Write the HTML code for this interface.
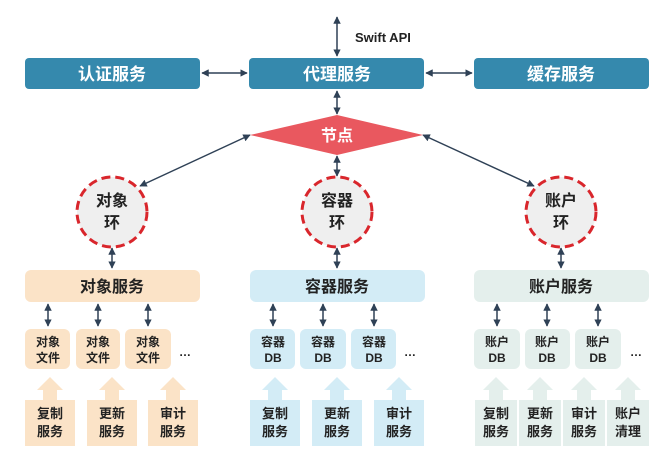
<!DOCTYPE html>
<html><head><meta charset="utf-8"><style>
body{margin:0;background:#fff}
svg text{font-family:"Liberation Sans","Noto Sans CJK SC",sans-serif;font-weight:bold}
</style></head><body>
<svg width="655" height="446" viewBox="0 0 655 446" xmlns="http://www.w3.org/2000/svg">
<defs>
<marker id="a" viewBox="0 0 10 10" refX="9" refY="5" markerWidth="5" markerHeight="5" orient="auto-start-reverse"><path d="M0,0L10,5L0,10z" fill="#2f4156"/></marker>
<path id="ba" d="M-13,390L0,377L13,390h-6v10h-14v-10z"/>
</defs>
<g stroke="#2f4156" stroke-width="1.5" fill="none" marker-start="url(#a)" marker-end="url(#a)">
<line x1="337" y1="17" x2="337" y2="56"/>
<line x1="337" y1="91" x2="337" y2="114"/>
<line x1="337" y1="156" x2="337" y2="176"/>
<line x1="202" y1="73" x2="247" y2="73"/>
<line x1="426" y1="73" x2="472" y2="73"/>
<line x1="250" y1="135" x2="140" y2="186"/>
<line x1="423" y1="135" x2="534" y2="186"/>
<line x1="112" y1="248" x2="112" y2="268"/>
<line x1="337" y1="248" x2="337" y2="268"/>
<line x1="561" y1="248" x2="561" y2="268"/>
<line x1="48" y1="304" x2="48" y2="326"/><line x1="98" y1="304" x2="98" y2="326"/><line x1="148" y1="304" x2="148" y2="326"/>
<line x1="273" y1="304" x2="273" y2="326"/><line x1="323" y1="304" x2="323" y2="326"/><line x1="374" y1="304" x2="374" y2="326"/>
<line x1="497" y1="304" x2="497" y2="326"/><line x1="547" y1="304" x2="547" y2="326"/><line x1="598" y1="304" x2="598" y2="326"/>
</g>
<text x="355" y="42" font-size="13" fill="#222">Swift API</text>
<g fill="#3589ad">
<rect x="25" y="58" width="175" height="31" rx="4"/>
<rect x="249" y="58" width="175" height="31" rx="4"/>
<rect x="474" y="58" width="175" height="31" rx="4"/>
</g>
<g fill="#fff" font-size="17" text-anchor="middle">
<text x="112" y="80">认证服务</text><text x="337" y="80">代理服务</text><text x="561" y="80">缓存服务</text>
</g>
<polygon points="250,135 337,115 423,135 337,155" fill="#e9585f"/>
<text x="337" y="141" fill="#fff" font-size="16" text-anchor="middle">节点</text>
<g fill="#efefef" stroke="#d9262c" stroke-width="3" stroke-dasharray="9,5">
<circle cx="112" cy="212" r="35"/><circle cx="337" cy="212" r="35"/><circle cx="561" cy="212" r="35"/>
</g>
<g font-size="16" fill="#222" text-anchor="middle">
<text x="112" y="206">对象</text><text x="112" y="228">环</text>
<text x="337" y="206">容器</text><text x="337" y="228">环</text>
<text x="561" y="206">账户</text><text x="561" y="228">环</text>
</g>
<rect x="25" y="270" width="175" height="32" rx="6" fill="#fbe3c7"/>
<rect x="250" y="270" width="175" height="32" rx="6" fill="#d3ecf6"/>
<rect x="474" y="270" width="175" height="32" rx="6" fill="#e4efec"/>
<g font-size="16" fill="#222" text-anchor="middle">
<text x="112" y="292">对象服务</text><text x="337" y="292">容器服务</text><text x="561" y="292">账户服务</text>
</g>
<g fill="#fbe3c7"><rect x="25" y="329" width="45" height="40" rx="6"/><rect x="76" y="329" width="44" height="40" rx="6"/><rect x="125" y="329" width="46" height="40" rx="6"/></g>
<g fill="#d3ecf6"><rect x="250" y="329" width="45" height="40" rx="6"/><rect x="300" y="329" width="46" height="40" rx="6"/><rect x="351" y="329" width="45" height="40" rx="6"/></g>
<g fill="#e4efec"><rect x="474" y="329" width="46" height="40" rx="6"/><rect x="525" y="329" width="45" height="40" rx="6"/><rect x="575" y="329" width="46" height="40" rx="6"/></g>
<g font-size="12" fill="#222" text-anchor="middle">
<text x="48" y="346">对象</text><text x="48" y="362">文件</text>
<text x="98" y="346">对象</text><text x="98" y="362">文件</text>
<text x="148" y="346">对象</text><text x="148" y="362">文件</text>
<text x="273" y="346">容器</text><text x="273" y="362">DB</text>
<text x="323" y="346">容器</text><text x="323" y="362">DB</text>
<text x="374" y="346">容器</text><text x="374" y="362">DB</text>
<text x="497" y="346">账户</text><text x="497" y="362">DB</text>
<text x="547" y="346">账户</text><text x="547" y="362">DB</text>
<text x="598" y="346">账户</text><text x="598" y="362">DB</text>
<text x="185" y="356">…</text><text x="410" y="356">…</text><text x="636" y="356">…</text>
</g>
<g fill="#fbe3c7">
<use href="#ba" x="50"/><use href="#ba" x="112"/><use href="#ba" x="173"/>
<rect x="25" y="400" width="50" height="46"/><rect x="87" y="400" width="50" height="46"/><rect x="148" y="400" width="50" height="46"/>
</g>
<g fill="#d3ecf6">
<use href="#ba" x="275"/><use href="#ba" x="337"/><use href="#ba" x="399"/>
<rect x="250" y="400" width="50" height="46"/><rect x="312" y="400" width="50" height="46"/><rect x="374" y="400" width="50" height="46"/>
</g>
<g fill="#e4efec">
<use href="#ba" x="496"/><use href="#ba" x="540"/><use href="#ba" x="584"/><use href="#ba" x="628"/>
<rect x="475" y="400" width="42" height="46"/><rect x="519" y="400" width="42" height="46"/><rect x="563" y="400" width="42" height="46"/><rect x="607" y="400" width="42" height="46"/>
</g>
<g font-size="13" fill="#222" text-anchor="middle">
<text x="50" y="418">复制</text><text x="50" y="436">服务</text>
<text x="112" y="418">更新</text><text x="112" y="436">服务</text>
<text x="173" y="418">审计</text><text x="173" y="436">服务</text>
<text x="275" y="418">复制</text><text x="275" y="436">服务</text>
<text x="337" y="418">更新</text><text x="337" y="436">服务</text>
<text x="399" y="418">审计</text><text x="399" y="436">服务</text>
<text x="496" y="418">复制</text><text x="496" y="436">服务</text>
<text x="540" y="418">更新</text><text x="540" y="436">服务</text>
<text x="584" y="418">审计</text><text x="584" y="436">服务</text>
<text x="628" y="418">账户</text><text x="628" y="436">清理</text>
</g>
</svg>
</body></html>
